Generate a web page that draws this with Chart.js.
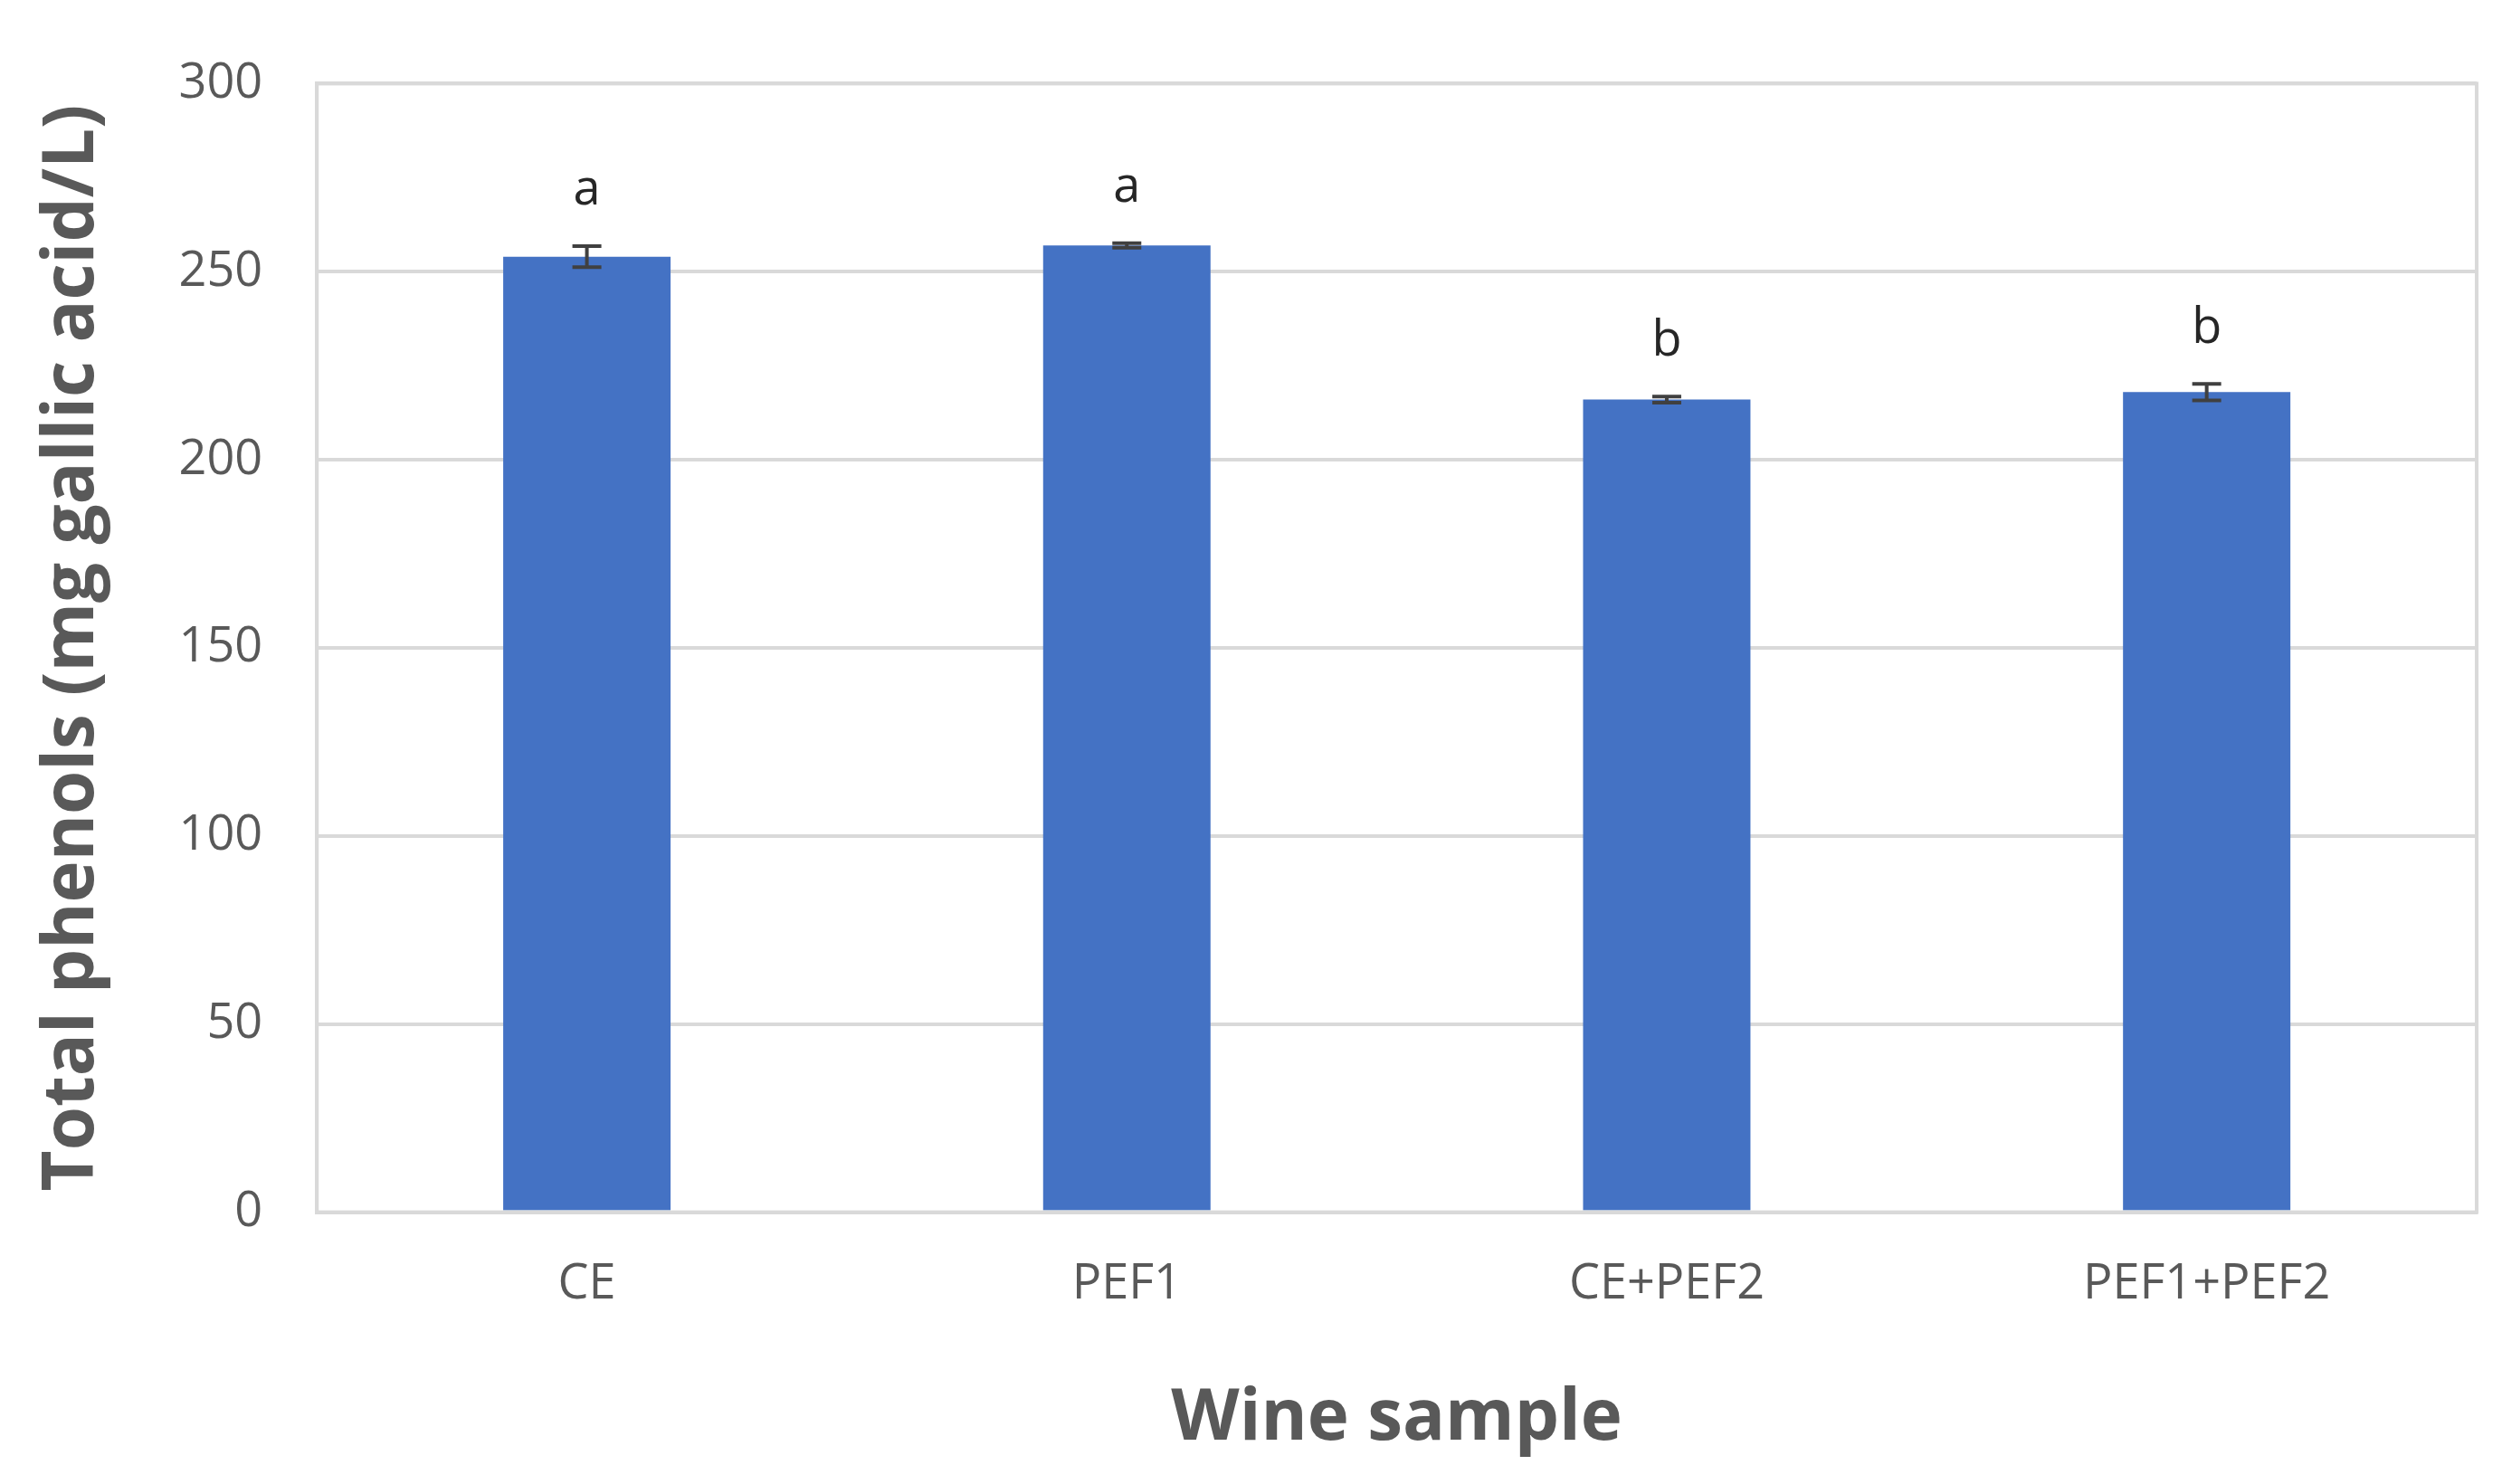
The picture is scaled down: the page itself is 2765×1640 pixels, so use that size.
<!DOCTYPE html>
<html>
<head>
<meta charset="utf-8">
<script src="https://cdn.jsdelivr.net/npm/chart.js@4"></script>
<style>
  html, body { margin: 0; padding: 0; background: #fff; }
  #wrap { width: 2765px; height: 1640px; }
</style>
</head>
<body>
<div id="wrap"><canvas id="chart"></canvas></div>
<script>
const categories = ['CE', 'PEF1', 'CE+PEF2', 'PEF1+PEF2'];
const values = [254, 257, 216, 218];
const errors = [2.8, 0.6, 0.8, 2.2];
const letters = ['a', 'a', 'b', 'b'];
const yTicks = [0, 50, 100, 150, 200, 250, 300];

const textColor = '#595959';
const fontFamily = "'Open Sans', 'Noto Sans', sans-serif";

// error bars and significance letters drawn on top of the bars
const extrasPlugin = {
  id: 'extras',
  afterDatasetsDraw(chart) {
    const ctx = chart.ctx;
    const x = chart.scales.x, y = chart.scales.y;
    ctx.save();
    ctx.strokeStyle = '#404040';
    ctx.lineWidth = 4;
    values.forEach((v, i) => {
      const cx = x.getPixelForValue(i);
      const top = y.getPixelForValue(v + errors[i]);
      const bot = y.getPixelForValue(v - errors[i]);
      ctx.beginPath();
      ctx.moveTo(cx, top); ctx.lineTo(cx, bot);
      ctx.moveTo(cx - 16, top); ctx.lineTo(cx + 16, top);
      ctx.moveTo(cx - 16, bot); ctx.lineTo(cx + 16, bot);
      ctx.stroke();
      ctx.fillStyle = '#262626';
      ctx.font = '54px ' + fontFamily;
      ctx.textAlign = 'center';
      ctx.textBaseline = 'bottom';
      ctx.fillText(letters[i], cx, top - 34);
    });
    ctx.restore();
  }
};

new Chart(document.getElementById('chart'), {
  type: 'bar',
  data: {
    labels: categories,
    datasets: [{
      data: values,
      backgroundColor: '#4472C4',
      barPercentage: 0.31,
      categoryPercentage: 1
    }]
  },
  options: {
    responsive: true,
    maintainAspectRatio: false,
    animation: false,
    layout: { padding: { top: 40, right: 28, bottom: 20, left: 30 } },
    plugins: { legend: { display: false }, tooltip: { enabled: false } },
    scales: {
      x: {
        grid: { display: false },
        border: { color: '#d9d9d9', width: 4 },
        ticks: { color: textColor, font: { size: 54, family: fontFamily }, padding: 40 },
        title: {
          display: true, text: 'Wine sample', color: textColor,
          font: { size: 78, weight: 'bold', family: fontFamily }, padding: { top: 30 }
        }
      },
      y: {
        min: 0, max: 300,
        afterBuildTicks: axis => { axis.ticks = yTicks.map(v => ({ value: v })); },
        grid: { color: '#d9d9d9', lineWidth: 4, drawTicks: false },
        border: { color: '#d9d9d9', width: 4 },
        ticks: { color: textColor, font: { size: 54, family: fontFamily }, padding: 60 },
        title: {
          display: true, text: 'Total phenols (mg gallic acid/L)', color: textColor,
          font: { size: 78, weight: 'bold', family: fontFamily }, padding: { bottom: 10 }
        }
      }
    }
  },
  plugins: [extrasPlugin, {
    id: 'frame',
    afterDraw(chart) {
      const a = chart.chartArea, ctx = chart.ctx;
      ctx.save();
      ctx.strokeStyle = '#d9d9d9';
      ctx.lineWidth = 4;
      ctx.strokeRect(a.left, a.top, a.right - a.left, a.bottom - a.top);
      ctx.restore();
    }
  }]
});
</script>
</body>
</html>
